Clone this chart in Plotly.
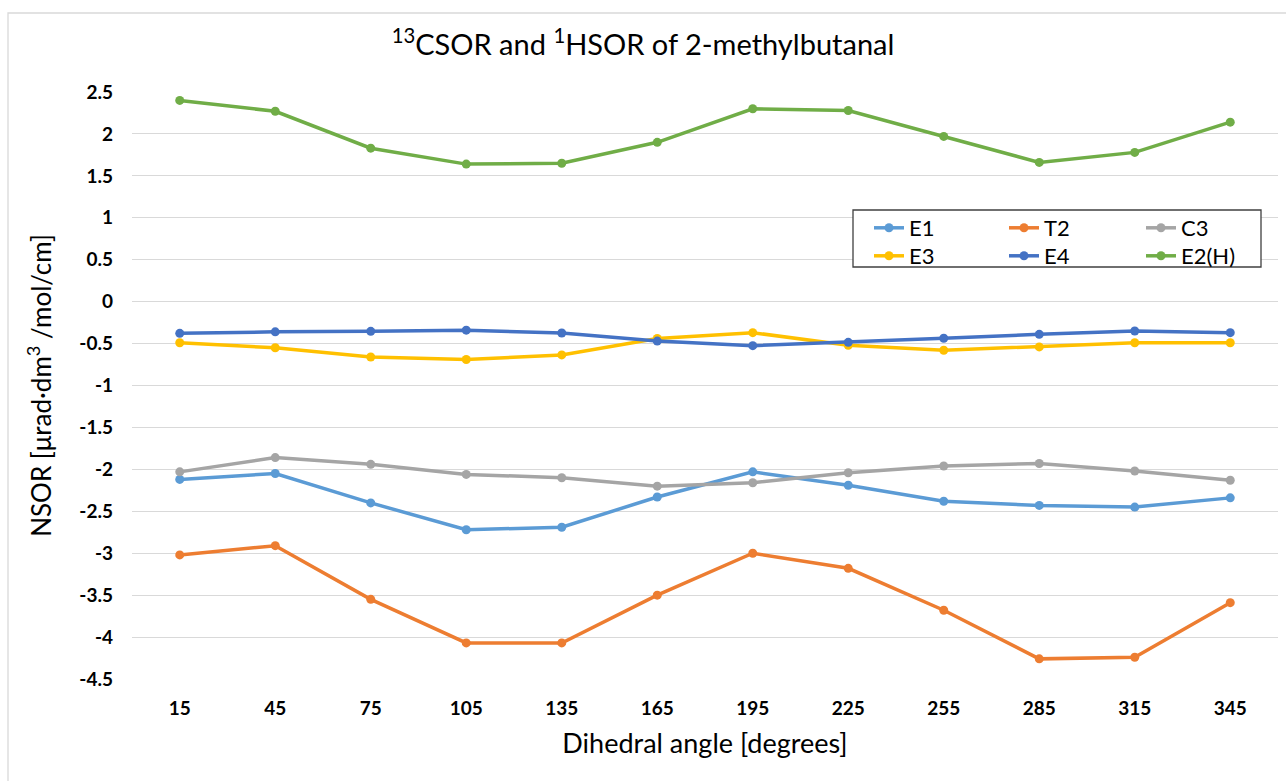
import plotly.graph_objects as go

# Dihedral angle categories (degrees)
angles = ["15", "45", "75", "105", "135", "165", "195", "225", "255", "285", "315", "345"]

# NSOR values per conformer
e1 = [-2.12, -2.05, -2.40, -2.72, -2.69, -2.33, -2.03, -2.19, -2.38, -2.43, -2.45, -2.34]
t2 = [-3.02, -2.91, -3.55, -4.07, -4.07, -3.50, -3.00, -3.18, -3.68, -4.26, -4.24, -3.59]
c3 = [-2.03, -1.86, -1.94, -2.06, -2.10, -2.20, -2.16, -2.04, -1.96, -1.93, -2.02, -2.13]
e3 = [-0.49, -0.55, -0.66, -0.69, -0.635, -0.44, -0.37, -0.52, -0.58, -0.54, -0.49, -0.49]
e4 = [-0.378, -0.36, -0.354, -0.34, -0.374, -0.47, -0.525, -0.485, -0.437, -0.39, -0.35, -0.37]
e2h = [2.40, 2.27, 1.83, 1.64, 1.65, 1.90, 2.30, 2.28, 1.97, 1.66, 1.78, 2.14]

# Y axis ticks
y_ticks = [2.5, 2, 1.5, 1, 0.5, 0, -0.5, -1, -1.5, -2, -2.5, -3, -3.5, -4, -4.5]
y_tick_labels = ["2.5", "2", "1.5", "1", "0.5", "0", "-0.5", "-1", "-1.5", "-2", "-2.5", "-3", "-3.5", "-4", "-4.5"]

FONT = "Lato, 'Open Sans', sans-serif"

L, R, T, B = 132, 8, 92, 102
W, H = 1286, 781
pw, ph = W - L - R, H - T - B

def px_x(x):
    return (x - L) / pw

def px_y(y):
    return (H - B - y) / ph

# name, values, colour, legend slot (column left px, row top px)
series = [
    ("E1", e1, "#5B9BD5", (869, 207)),
    ("T2", t2, "#ED7D31", (1004, 207)),
    ("C3", c3, "#A5A5A5", (1141, 207)),
    ("E3", e3, "#FFC000", (869, 235)),
    ("E4", e4, "#4472C4", (1004, 235)),
    ("E2(H)", e2h, "#70AD47", (1141, 235)),
]

legend_common = dict(
    font=dict(family=FONT, size=22, color="#000000"),
    bgcolor="rgba(0,0,0,0)", borderwidth=0,
    orientation="v", xanchor="left", yanchor="top",
    itemclick=False, itemdoubleclick=False,
)

fig = go.Figure()
legends = {}
for i, (name, vals, color, (lx, ly)) in enumerate(series):
    key = "legend" if i == 0 else f"legend{i + 1}"
    fig.add_trace(go.Scatter(
        x=angles, y=vals, name=name, mode="lines+markers",
        line=dict(color=color, width=3.5),
        marker=dict(color=color, size=9),
        legend=key, showlegend=True,
    ))
    legends[key] = dict(x=px_x(lx), y=px_y(ly), visible=True, **legend_common)

fig.update_layout(
    width=W, height=H,
    showlegend=True,
    margin=dict(l=L, r=R, t=T, b=B),
    paper_bgcolor="white", plot_bgcolor="white",
    font=dict(family=FONT, color="#000000"),
    title=dict(
        text="<sup>13</sup>CSOR and <sup>1</sup>HSOR of 2-methylbutanal",
        x=0.5, xanchor="center", y=1 - 45 / H, yanchor="middle",
        font=dict(family=FONT, size=29, color="#000000"),
    ),
    xaxis=dict(
        type="category", categoryorder="array", categoryarray=angles,
        range=[-0.5, len(angles) - 0.5],
        showgrid=False, zeroline=False, showline=False,
        ticks="", ticklabelstandoff=16,
        tickfont=dict(family=FONT, size=19, color="#000000", weight="bold"),
        title=dict(text="Dihedral angle [degrees]", standoff=16,
                   font=dict(family=FONT, size=27, color="#000000")),
    ),
    yaxis=dict(
        range=[-4.5, 2.5], tickvals=y_ticks, ticktext=y_tick_labels,
        showgrid=True, gridcolor="#D9D9D9", gridwidth=1.3,
        zeroline=False, showline=False, ticks="", ticklabelstandoff=18,
        tickfont=dict(family=FONT, size=19, color="#000000", weight="bold"),
        title=dict(text="NSOR [μrad·dm<sup>3</sup> /mol/cm]", standoff=20,
                   font=dict(family=FONT, size=26, color="#000000")),
    ),
    shapes=[
        # chart frame
        dict(type="rect", xref="paper", yref="paper",
             x0=px_x(8), x1=px_x(1300), y0=px_y(800), y1=px_y(13),
             line=dict(color="#D9D9D9", width=1.3), fillcolor="rgba(0,0,0,0)", layer="below"),
        # legend box
        dict(type="rect", xref="paper", yref="paper",
             x0=px_x(853), x1=px_x(1261), y0=px_y(267), y1=px_y(210),
             line=dict(color="#404040", width=1.3), fillcolor="white", layer="above"),
    ],
    **legends,
)

fig.write_html("out.html")
